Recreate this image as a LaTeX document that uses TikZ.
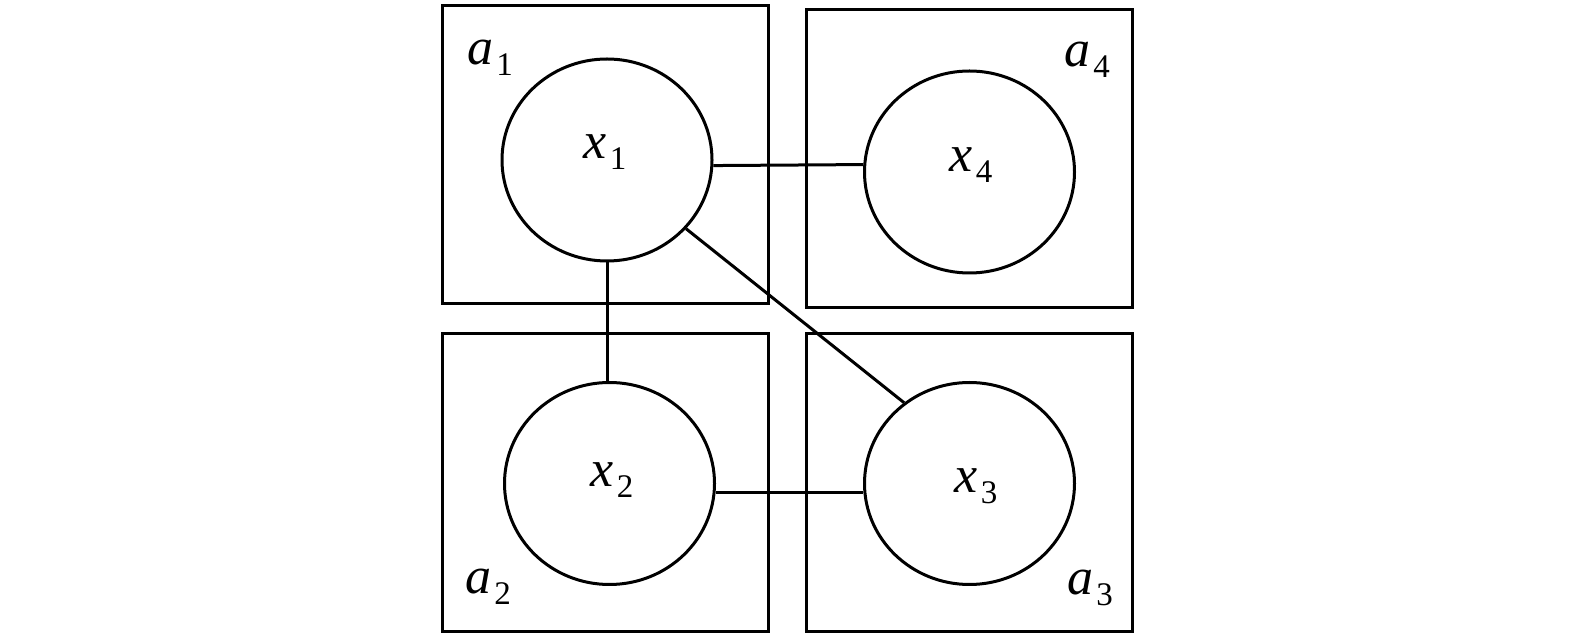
\documentclass[tikz,border=0pt]{standalone}
\usepackage{fontspec}
\setmainfont{Liberation Serif}
\usetikzlibrary{shapes.geometric}
\newcommand\sublab[2]{\textit{#1}\kern0.06em\raisebox{-0.22em}{\fontsize{33}{33}\selectfont #2}}
\tikzset{
  box/.style={draw, line width=3pt, rectangle, minimum width=326pt, minimum height=298pt, inner sep=0pt},
  var/.style={draw, line width=3pt, ellipse, minimum width=210pt, minimum height=202pt, inner sep=0pt},
  lab/.style={font=\fontsize{52}{52}\selectfont, inner sep=0pt},
  link/.style={line width=3pt}
}
\begin{document}
\begin{tikzpicture}[x=1pt,y=1pt]
\useasboundingbox (0,0) rectangle (1575,640);
\node[box] (a1) at (605,485) {};
\node[box] (a4) at (969,481) {};
\node[box] (a2) at (605,157.5) {};
\node[box] (a3) at (969,157.5) {};
\node[var] (x1) at (607,480) {};
\node[var] (x4) at (969.5,468) {};
\node[var] (x2) at (609.5,156.5) {};
\node[var] (x3) at (969.5,156.5) {};
\node[lab] (l1) at (490,582) {\sublab{a}{1}};
\node[lab] (l4) at (1087,580) {\sublab{a}{4}};
\node[lab] (l2) at (488,53) {\sublab{a}{2}};
\node[lab] (l3) at (1090,52) {\sublab{a}{3}};
\node[lab] (t1) at (605,488) {\sublab{x}{1}};
\node[lab] (t4) at (971,475) {\sublab{x}{4}};
\node[lab] (t2) at (612,160) {\sublab{x}{2}};
\node[lab] (t3) at (976,154) {\sublab{x}{3}};
\draw[link] (x1.-3) -- (x4.176);
\draw[link] (x2.-5) -- (x3.185);
\draw[link] (x1.south) -- (x1.south |- x2.north);
\draw[link] (x1.-41) -- (x3.129);
\end{tikzpicture}
\end{document}
